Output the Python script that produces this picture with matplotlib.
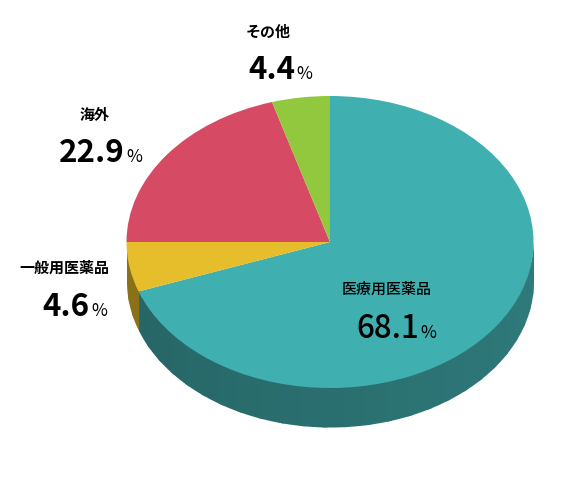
import matplotlib
matplotlib.use('Agg')
import matplotlib.pyplot as plt
import numpy as np

plt.rcParams['font.family'] = ['Noto Sans CJK JP', 'DejaVu Sans']

categories = ['医療用医薬品', '一般用医薬品', '海外', 'その他']
printed_values = ['68.1', '4.6', '22.9', '4.4']
# the drawn slices are not quite the printed numbers, these are read off the picture
slice_shares = [69.5, 5.5, 20.4, 4.6]
top_colors = ['#3fafb0', '#e6bd2a', '#d64a63', '#92c83e']
side_left = ['#256363', '#8a7018', '#7a2a38', '#55752a']
side_right = ['#307c7e', '#8a7018', '#7a2a38', '#55752a']

# pixel geometry of the pie in the 570x480 image
cx, cy = 330, 242
rx, ry = 203.5, 146
depth = 39 / ry

fig = plt.figure(figsize=(5.7, 4.8), dpi=100)
ax = fig.add_axes([0, 0, 1, 1])

wedges, _ = ax.pie(slice_shares, colors=top_colors, startangle=90, counterclock=False,
                   wedgeprops={'linewidth': 0, 'zorder': 3})
ax.set_aspect('auto')
ax.set_xlim((0 - cx) / rx, (570 - cx) / rx)
ax.set_ylim((cy - 480) / ry, cy / ry)
ax.axis('off')

# side wall, only the front half of the rim shows
for wedge, c1, c2 in zip(wedges, side_left, side_right):
    lo = max(wedge.theta1, -180)
    hi = min(wedge.theta2, 0)
    if hi <= lo:
        continue
    col1 = np.array(matplotlib.colors.to_rgb(c1))
    col2 = np.array(matplotlib.colors.to_rgb(c2))
    n = max(int((hi - lo) / 6), 1)
    edges = np.linspace(lo, hi, n + 1)
    for i in range(n):
        # strips overlap and run a bit under the top face, so no white seams
        t = np.radians(np.linspace(edges[i], min(edges[i + 1] + 1.5, hi), 30))
        f = ((edges[i] + 180) / 180) if c1 != c2 else 0
        ax.fill_between(np.cos(t), np.sin(t) + 0.03, np.sin(t) - depth,
                        color=col1 + (col2 - col1) * f, linewidth=0, zorder=2)


def px(x, y):
    return (x - cx) / rx, (cy - y) / ry


# label x, label y, right end of number, number baseline
label_pos = [(387, 289, 419, 338), (64, 268, 90, 316), (95, 115, 125, 162), (268, 32, 295, 79)]
weights = ['medium', 'bold', 'bold', 'bold']

for name, val, pos, w in zip(categories, printed_values, label_pos, weights):
    lx, ly, nx, base = pos
    ax.text(*px(lx, ly), name, ha='center', va='center', fontsize=10.8, fontweight=w,
            color='black', zorder=5)
    ax.text(*px(nx, base), val, ha='right', va='baseline', fontsize=22.5, fontweight=w,
            color='black', zorder=5)
    ax.text(*px(nx + 1, base), '%', ha='left', va='baseline', fontsize=12.5,
            color='black', zorder=5)

fig.savefig('out.png', dpi=100)
